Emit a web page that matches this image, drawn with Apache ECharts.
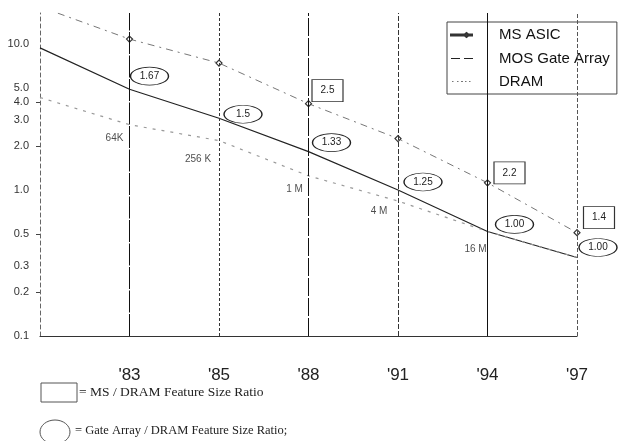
<!DOCTYPE html>
<html>
<head>
<meta charset="utf-8">
<script src="https://cdn.jsdelivr.net/npm/echarts/dist/echarts.min.js"></script>
<style>
  html, body { margin: 0; padding: 0; background: #fff; }
  #chart { width: 618px; height: 441px; }
</style>
</head>
<body>
<div id="chart"></div>
<script>
// Years on the x axis; the first slot is the unlabeled start of the lines.
const categories = ['', "'83", "'85", "'88", "'91", "'94", "'97"];

// Feature sizes (log scale)
const msAsic    = [18, 10.8, 7.4, 3.9, 2.25, 1.12, 0.51];
const gateArray = [9.4, 4.9, 3.1, 1.83, 1.0, 0.52, 0.345];
const dram      = [4.3, 2.8, 2.18, 1.25, 0.84, 0.52, 0.345];

// DRAM generation names at each year
const dramGenerations = ['', '64K', '256 K', '1 M', '4 M', '16 M', ''];

// Ratios written in the ellipses (gate array / DRAM) and boxes (MS / DRAM)
const gateDramRatio = ['', '1.67', '1.5', '1.33', '1.25', '1.00', '1.00'];
const msDramRatio   = ['', '', '', '2.5', '', '2.2', '1.4'];

// Y axis tick labels
const yTickValues = [10, 5, 4, 3, 2, 1, 0.5, 0.3, 0.2, 0.1];
const yTickMarks  = [4, 2, 0.5, 0.2];

// Placement of each annotation relative to the point it belongs to
const ellipseOffsets = [null, [20, -13], [24, -4], [23, -9], [25, -8], [27, -7], [21, -10]];
const boxOffsets     = [null, null, null, [19, -13], null, [22, -10], [22, -15]];
const genOffsets     = [null, [-15, 14], [-21, 19], [-14, 13], [-19, 10], [-12, 18], null];

// Vertical year lines, each with its own dash pattern
const yearLineStyles = [
  { type: [22, 1.5], color: '#111' },
  { type: [3, 2],    color: '#333' },
  { type: [18, 2],   color: '#111' },
  { type: [5, 2],    color: '#333' },
  { type: 'solid',   color: '#111' },
  { type: [4, 2],    color: '#555' }
];

// Legend glyphs drawn on a 22x14 frame
const iconFrame = 'M0,0 M22,14 ';
const msIcon   = 'path://' + iconFrame + 'M0,6.6h2v0.8h-2z M4,6.6h2.5v0.8h-2.5z M8.5,6.6h4v0.8h-4z M13,7 L15.5,5 L18,7 L15.5,9z M18,6.6h3v0.8h-3z';
const gateIcon = 'path://' + iconFrame + 'M0,6.4h9v1.2h-9z M13,6.4h9v1.2h-9z';
const dramIcon = 'path://' + iconFrame + 'M1,6.5h1.5v1h-1.5z M6,6.5h1.5v1h-1.5z M10,6.5h2v1h-2z M14,6.5h1.5v1h-1.5z M18,6.5h1.5v1h-1.5z';

const chart = echarts.init(document.getElementById('chart'), null, { renderer: 'canvas' });

const ellipseData = [];
const boxData = [];
const genData = [];
categories.forEach((c, i) => {
  if (gateDramRatio[i]) {
    ellipseData.push({ value: [i, gateArray[i]], symbolOffset: ellipseOffsets[i], txt: gateDramRatio[i] });
  }
  if (msDramRatio[i]) {
    boxData.push({ value: [i, msAsic[i]], symbolOffset: boxOffsets[i], txt: msDramRatio[i] });
  }
  if (dramGenerations[i]) {
    genData.push({ value: [i, dram[i]], txt: dramGenerations[i], label: { offset: genOffsets[i] } });
  }
});

const yearLines = categories.slice(1).map((c, k) => ({
  xAxis: k + 1,
  lineStyle: Object.assign({ width: 1 }, yearLineStyles[k])
}));

const annotationLabel = {
  show: true, position: 'inside',
  formatter: p => p.data.txt,
  fontFamily: 'Liberation Sans, Arial', fontSize: 10, color: '#222'
};

const option = {
  animation: false,
  backgroundColor: '#fff',
  grid: { left: 40, right: 41, top: 13, bottom: 105 },
  legend: {
    left: 447, top: 22,
    orient: 'vertical',
    padding: [5, 7, 5, 3],
    itemWidth: 22, itemHeight: 14, itemGap: 8,
    borderColor: '#444', borderWidth: 1,
    textStyle: { fontFamily: 'Liberation Sans, Arial', fontSize: 15, color: '#111', padding: [0, 0, 0, 21] },
    data: [
      { name: 'MS ASIC', icon: msIcon, itemStyle: { color: '#444' } },
      { name: 'MOS Gate Array', icon: gateIcon, itemStyle: { color: '#222' } },
      { name: 'DRAM', icon: dramIcon, itemStyle: { color: '#777' } }
    ]
  },
  xAxis: {
    type: 'category',
    data: categories,
    boundaryGap: false,
    axisLine: { lineStyle: { color: '#333', width: 1.2 } },
    axisTick: { show: false },
    axisLabel: { fontFamily: 'Liberation Sans, Arial', fontSize: 17, color: '#222', margin: 31, interval: 0 },
    splitLine: { show: false }
  },
  yAxis: {
    type: 'log',
    logBase: 10,
    min: 0.1,
    max: 16.3,
    axisLine: { show: true, lineStyle: { color: '#666', type: [4, 3], width: 1 } },
    axisTick: { show: true, length: 4, customValues: yTickMarks, lineStyle: { color: '#444' } },
    axisLabel: {
      customValues: yTickValues,
      formatter: v => Number(v).toFixed(1),
      fontFamily: 'Liberation Sans, Arial', fontSize: 11, color: '#333', margin: 11
    },
    splitLine: { show: false }
  },
  series: [
    {
      name: 'MS ASIC',
      type: 'line',
      data: msAsic,
      symbol: 'diamond',
      symbolSize: 6,
      showSymbol: true,
      itemStyle: { color: '#fff', borderColor: '#333', borderWidth: 1.2 },
      lineStyle: { color: '#777', width: 1, type: [7, 5, 2, 5] },
      z: 3,
      markLine: {
        silent: true,
        symbol: 'none',
        label: { show: false },
        data: yearLines
      }
    },
    {
      name: 'MOS Gate Array',
      type: 'line',
      data: gateArray,
      symbol: 'none',
      itemStyle: { color: '#222' },
      lineStyle: { color: '#222', width: 1.2, type: 'solid' },
      z: 3
    },
    {
      name: 'DRAM',
      type: 'line',
      data: dram,
      symbol: 'none',
      itemStyle: { color: '#999' },
      lineStyle: { color: '#999', width: 1.2, type: [3, 6] },
      z: 3
    },
    {
      name: 'gateDram',
      type: 'scatter',
      data: ellipseData,
      symbol: 'circle',
      symbolSize: [38, 18],
      itemStyle: { color: '#fff', borderColor: '#222', borderWidth: 1, opacity: 1 },
      label: annotationLabel,
      z: 6
    },
    {
      name: 'msDram',
      type: 'scatter',
      data: boxData,
      symbol: 'rect',
      symbolSize: [31, 22],
      itemStyle: { color: '#fff', borderColor: '#333', borderWidth: 1, opacity: 1 },
      label: annotationLabel,
      z: 6
    },
    {
      name: 'dramGen',
      type: 'scatter',
      data: genData,
      symbolSize: 0,
      itemStyle: { color: 'rgba(0,0,0,0)' },
      label: annotationLabel,
      z: 6
    }
  ],
  graphic: [
    { type: 'rect', shape: { x: 41, y: 383, width: 36, height: 19 },
      style: { fill: 'none', stroke: '#555', lineWidth: 1 } },
    { type: 'text', left: 79, top: 385,
      style: { text: '= MS / DRAM Feature Size Ratio', font: '13.5px "Liberation Serif", serif', fill: '#222' } },
    { type: 'ellipse', shape: { cx: 55, cy: 432, rx: 15, ry: 12 },
      style: { fill: 'none', stroke: '#555', lineWidth: 1 } },
    { type: 'text', left: 75, top: 424,
      style: { text: '= Gate Array / DRAM Feature Size Ratio;', font: '12.5px "Liberation Serif", serif', fill: '#222' } }
  ]
};

chart.setOption(option);
</script>
</body>
</html>
